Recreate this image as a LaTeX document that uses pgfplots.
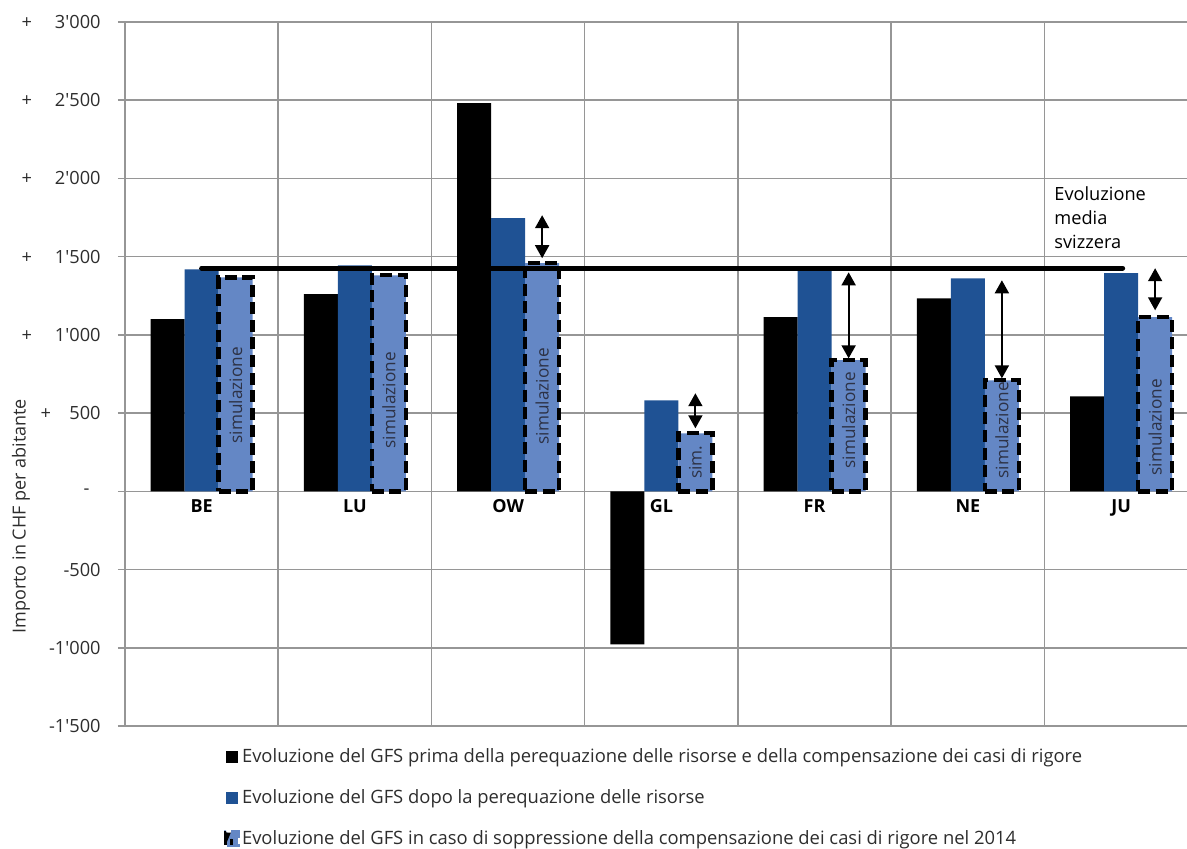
\documentclass[border=0pt]{standalone}
\usepackage{fontspec}
\setmainfont{Open Sans}
\usepackage{pgfplots}
\pgfplotsset{compat=1.18}
\usetikzlibrary{arrows.meta}
\definecolor{gfsblue}{RGB}{31,82,148}
\definecolor{gfslight}{RGB}{100,135,197}
\definecolor{gridgray}{RGB}{150,150,150}
\definecolor{txt}{RGB}{45,45,45}
\newcommand{\q}{\textquotesingle}
\begin{document}
\begin{tikzpicture}[font=\fontsize{9}{11}\selectfont]
\begin{axis}[name=a,
  scale only axis, width=531pt, height=352pt,
  xmin=-0.5, xmax=6.43, ymin=-1500, ymax=3000,
  axis line style={draw=none},
  clip=false,
  ytick={-1500,-1000,...,3000},
  yticklabels={{-1\q 500},{-1\q 000},{-500},{-\hspace*{5.5pt}},
    {\makebox[30pt][l]{+\hfill 500}},
    {\makebox[39.5pt][l]{+\hfill 1\q 000}},
    {\makebox[39.5pt][l]{+\hfill 1\q 500}},
    {\makebox[39.5pt][l]{+\hfill 2\q 000}},
    {\makebox[39.5pt][l]{+\hfill 2\q 500}},
    {\makebox[39.5pt][l]{+\hfill 3\q 000}}},
  yticklabel style={anchor=east, inner sep=0pt, xshift=-8.5pt, text=txt, font=\fontsize{9.1}{11}\selectfont},
  ytick pos=left, tick align=outside, major tick length=3.5pt,
  tick style={gridgray, line width=0.75pt},
  ymajorgrids, major grid style={gridgray, line width=0.75pt},
  xtick=\empty,
  extra x ticks={-0.5,0.5,1.5,2.5,3.5,4.5,5.5},
  extra x tick labels={},
  extra x tick style={grid=major, major tick length=0pt},
  ybar, bar width=0.222, bar shift=0pt,
  legend style={draw=none, fill=none, at={(0.0925,-0.028)}, anchor=north west,
    legend cell align=left, row sep=10pt, inner sep=0pt,
    font=\fontsize{9.2}{11}\selectfont, text=txt,
    nodes={inner sep=1pt}},
  legend image code/.code={\fill[#1] (0pt,-3pt) rectangle (6pt,3pt);},
]
% series 1: before equalisation
\addplot[fill=black, draw=none] coordinates {
  (-0.222,1100) (0.778,1260) (1.778,2481) (2.778,-978) (3.778,1113) (4.778,1234) (5.778,607)};
\addlegendentry{Evoluzione del GFS prima della perequazione delle risorse e della compensazione dei casi di rigore}
% series 2: after equalisation
\addplot[fill=gfsblue, draw=none] coordinates {
  (0,1419) (1,1445) (2,1746) (3,582) (4,1438) (5,1362) (6,1394)};
\addlegendentry{Evoluzione del GFS dopo la perequazione delle risorse}
% series 3: simulation
\addplot[fill=gfslight, draw=black, line width=2.2pt, dash pattern=on 6pt off 2.8pt,
  legend image code/.code={\fill[gfslight] (0pt,-3pt) rectangle (6pt,3pt);
    \draw[black, line width=1.5pt] (0pt,-3pt) -- (0pt,3pt) -- (2.5pt,3pt);
    \draw[black, line width=1.5pt] (3pt,-3pt) -- (3pt,0pt);}]
  coordinates {
  (0.222,1368) (1.222,1381) (2.222,1458) (3.222,371) (4.222,838) (5.222,710) (6.222,1113)};
\addlegendentry{Evoluzione del GFS in caso di soppressione della compensazione dei casi di rigore nel 2014}
% Swiss average
\addplot[sharp plot, black, line width=2.5pt, line cap=round, forget plot] coordinates {(0,1426) (6.01,1426)};
% arrows
\addplot[sharp plot, black, line width=0.9pt, {Triangle[width=7pt,length=6.5pt]}-{Triangle[width=7pt,length=6.5pt]}, forget plot] coordinates {(2.222,1765) (2.222,1490)};
\addplot[sharp plot, black, line width=0.9pt, {Triangle[width=7pt,length=6.5pt]}-{Triangle[width=7pt,length=6.5pt]}, forget plot] coordinates {(3.222,627) (3.222,403)};
\addplot[sharp plot, black, line width=0.9pt, {Triangle[width=7pt,length=6.5pt]}-{Triangle[width=7pt,length=6.5pt]}, forget plot] coordinates {(4.222,1400) (4.222,850)};
\addplot[sharp plot, black, line width=0.9pt, {Triangle[width=7pt,length=6.5pt]}-{Triangle[width=7pt,length=6.5pt]}, forget plot] coordinates {(5.222,1349) (5.222,722)};
\addplot[sharp plot, black, line width=0.9pt, {Triangle[width=7pt,length=6.5pt]}-{Triangle[width=7pt,length=6.5pt]}, forget plot] coordinates {(6.222,1426) (6.222,1157)};
% simulation labels
\begin{scope}[every node/.style={rotate=90, inner sep=0pt, text={rgb,255:red,45;green,50;blue,70}, font=\fontsize{8.6}{10}\selectfont}]
\node at (axis cs:0.222,614) {simulazione};
\node at (axis cs:1.222,582) {simulazione};
\node at (axis cs:2.222,607) {simulazione};
\node at (axis cs:3.222,185) {sim.};
\node at (axis cs:4.222,454) {simulazione};
\node at (axis cs:5.222,390) {simulazione};
\node at (axis cs:6.222,409) {simulazione};
\end{scope}
% category labels
\begin{scope}[every node/.style={anchor=north, inner sep=0pt, yshift=-4pt, font=\fontsize{9}{11}\selectfont\bfseries}]
\node at (axis cs:0,0) {BE};
\node at (axis cs:1,0) {LU};
\node at (axis cs:2,0) {OW};
\node at (axis cs:3,0) {GL};
\node at (axis cs:4,0) {FR};
\node at (axis cs:5,0) {NE};
\node at (axis cs:6,0) {JU};
\end{scope}
\node[anchor=south west, align=left, inner sep=0pt, font=\fontsize{9.1}{12}\selectfont] at (axis cs:5.562,1550) {Evoluzione\\media\\svizzera};
\node[rotate=90, text=txt, inner sep=0pt] at (axis description cs:-0.098,0.298) {Importo in CHF per abitante};
\end{axis}
\coordinate (bl) at ([xshift=-62.5pt,yshift=-61.5pt]a.south west);
\coordinate (tr) at ([yshift=11pt]a.north east);
\pgfresetboundingbox
\path (bl) rectangle (tr);
\end{tikzpicture}
\end{document}
